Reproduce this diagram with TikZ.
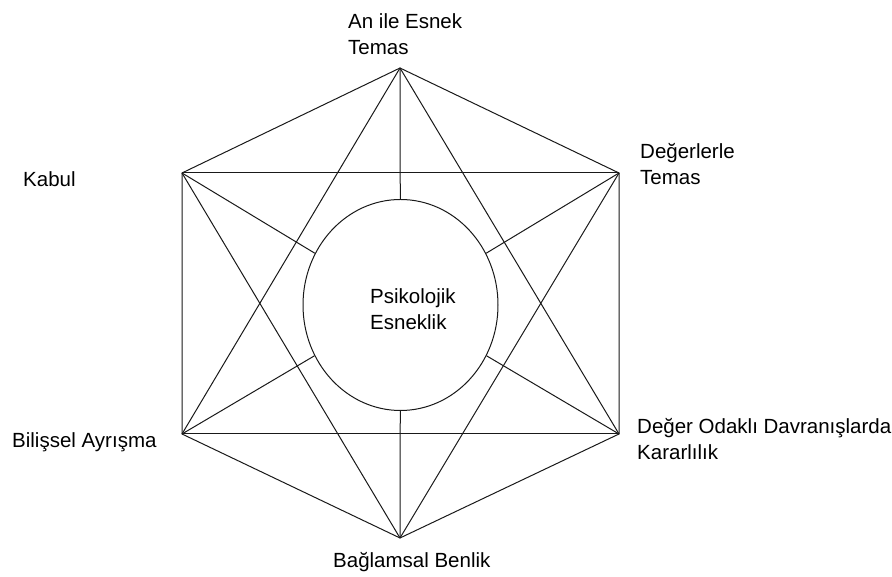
\documentclass[tikz,border=0pt]{standalone}
\usepackage{fontspec}
\setmainfont{Liberation Sans}
\usetikzlibrary{shapes.geometric}
\begin{document}
\begin{tikzpicture}[x=1pt,y=1pt,
  edge/.style={line width=1pt, draw=black!90},
  lbl/.style={font=\fontsize{20.5}{26}\selectfont, align=left, inner sep=0pt, anchor=north west, text=black}]
\useasboundingbox (0,0) rectangle (892,577);
% vertices
\coordinate (T)  at (400,509);
\coordinate (UR) at (619,404);
\coordinate (LR) at (619,143);
\coordinate (B)  at (400,39);
\coordinate (LL) at (182,143);
\coordinate (UL) at (182,404);
% central ellipse
\node[draw=black!90, line width=1pt, ellipse, minimum width=195pt, minimum height=211pt, inner sep=0pt] (C) at (400.5,272) {};
\node[lbl] (P) at (370,288.7) {Psikolojik\\Esneklik};
% hexagon
\draw[edge] (T) -- (UR) -- (LR) -- (B) -- (LL) -- (UL) -- cycle;
% horizontals
\draw[edge] (UL) -- (UR);
\draw[edge] (LL) -- (LR);
% star triangles
\draw[edge] (T) -- (LL);
\draw[edge] (T) -- (LR);
\draw[edge] (B) -- (UL);
\draw[edge] (B) -- (UR);
% spokes
\foreach \v in {T,UR,LR,B,LL,UL} \draw[edge] (\v) -- (C);
% labels
\node[lbl] (lT)  at (348,563.7) {An ile Esnek\\Temas};
\node[lbl] (lUR) at (640,433.7) {Değerlerle\\Temas};
\node[lbl] (lUL) at (23,405.7) {Kabul};
\node[lbl] (lLR) at (637,158.7) {Değer Odaklı Davranışlarda\\Kararlılık};
\node[lbl] (lLL) at (12,144.7) {Bilişsel Ayrışma};
\node[lbl] (lB)  at (333,24.7) {Bağlamsal Benlik};
\end{tikzpicture}
\end{document}
